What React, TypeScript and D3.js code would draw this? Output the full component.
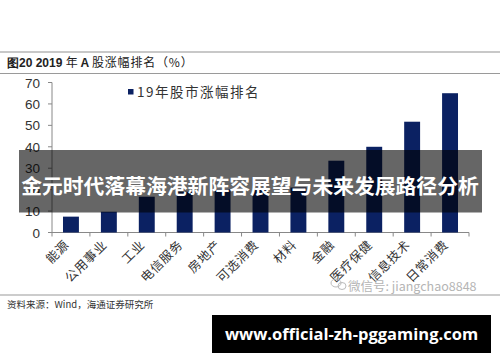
import { useEffect, useRef } from "react";
import * as d3 from "d3";

const categories = ["能源", "公用事业", "工业", "电信服务", "房地产", "可选消费", "材料", "金融", "医疗保健", "信息技术", "日常消费"];
const gains = [7.4, 9.7, 16.7, 19.0, 20.2, 19.8, 21.0, 33.5, 40.0, 51.7, 65.0];
const yTicks = [0, 10, 20, 30, 40, 50, 60, 70];
const seriesName = "19年股市涨幅排名";
const title = ["图20 2019 ", "年 ", "A ", "股涨幅排名（%）"];
const source = "资料来源：Wind，海通证券研究所";
const banner = "金元时代落幕海港新阵容展望与未来发展路径分析";
const site = "www.official-zh-pggaming.com";
const wechat = "微信号: jiangchao8848";

const CJK = "'Noto Sans CJK SC', sans-serif";
const SANS = "'Liberation Sans', Arial, sans-serif";

export default function App() {
  const ref = useRef<SVGSVGElement>(null);

  useEffect(() => {
    const el = ref.current;
    if (!el) return;
    const W = 500, H = 362;
    const M = { left: 52, right: 469, top: 82.5, bottom: 232.5 };
    const svg = d3.select(el).attr("width", W).attr("height", H).attr("viewBox", `0 0 ${W} ${H}`);
    svg.selectAll("*").remove();

    svg.append("rect").attr("width", W).attr("height", H).attr("fill", "#fff");

    // header rules + title
    svg.append("line").attr("x1", 0).attr("x2", W).attr("y1", 52).attr("y2", 52).attr("stroke", "#c8c8c8").attr("stroke-width", 2);
    svg.append("line").attr("x1", 0).attr("x2", W).attr("y1", 73.5).attr("y2", 73.5).attr("stroke", "#9a9a9a").attr("stroke-width", 1);
    const t = svg.append("text").attr("x", 7).attr("y", 67).attr("font-size", 12).attr("fill", "#222").attr("font-family", CJK);
    t.append("tspan").attr("font-weight", "bold").attr("font-family", SANS).text(title[0]);
    t.append("tspan").text(title[1]);
    t.append("tspan").attr("font-weight", "bold").attr("font-family", SANS).text(title[2]);
    t.append("tspan").attr("letter-spacing", 0.8).text(title[3]);

    const x = d3.scaleBand<string>().domain(categories).range([M.left, M.right]).paddingInner(0.58).paddingOuter(0.29);
    const y = d3.scaleLinear().domain([0, 70]).range([M.bottom, M.top]);
    const step = x.step();

    // y axis
    svg.append("line").attr("x1", M.left).attr("x2", M.left).attr("y1", y(70)).attr("y2", y(0)).attr("stroke", "#888");
    svg.selectAll("line.yt").data(yTicks).join("line")
      .attr("x1", M.left - 4).attr("x2", M.left).attr("y1", (d) => y(d)).attr("y2", (d) => y(d)).attr("stroke", "#888");
    svg.selectAll("text.yl").data(yTicks).join("text")
      .attr("x", 40).attr("y", (d) => y(d) + 5).attr("text-anchor", "end")
      .attr("font-size", 13.5).attr("font-family", SANS).attr("fill", "#333").text((d) => d);

    // x axis
    svg.append("line").attr("x1", M.left).attr("x2", M.right).attr("y1", y(0)).attr("y2", y(0)).attr("stroke", "#888");
    const bounds = d3.range(categories.length + 1).map((i) => M.left + i * step);
    svg.selectAll("line.xt").data(bounds).join("line")
      .attr("x1", (d) => d).attr("x2", (d) => d).attr("y1", y(0)).attr("y2", y(0) + 4).attr("stroke", "#888");

    // bars
    svg.selectAll("rect.bar").data(categories).join("rect")
      .attr("x", (d) => x(d) ?? 0).attr("width", x.bandwidth())
      .attr("y", (_, i) => y(gains[i])).attr("height", (_, i) => y(0) - y(gains[i]))
      .attr("fill", "#0b2162");

    // category labels
    svg.selectAll("text.xl").data(categories).join("text")
      .attr("transform", (d) => `translate(${(x(d) ?? 0) + x.bandwidth() / 2 - 1},${y(0) + 13}) rotate(-45)`)
      .attr("text-anchor", "end").attr("font-size", 12.5).attr("letter-spacing", 0.8).attr("font-family", CJK).attr("fill", "#333")
      .text((d) => d);

    // legend
    svg.append("rect").attr("x", 128).attr("y", 89).attr("width", 5.5).attr("height", 5.5).attr("fill", "#0b2162");
    svg.append("text").attr("x", 137).attr("y", 97).attr("font-size", 13.5).attr("letter-spacing", 1.5).attr("font-family", CJK).attr("fill", "#333").text(seriesName);

    // wechat watermark
    const wx = 338, wy = 287;
    svg.append("ellipse").attr("cx", wx - 2).attr("cy", wy - 4).attr("rx", 5).attr("ry", 4).attr("fill", "none").attr("stroke", "#bbb");
    svg.append("ellipse").attr("cx", wx + 4).attr("cy", wy - 1).attr("rx", 4).attr("ry", 3.5).attr("fill", "none").attr("stroke", "#bbb");
    svg.append("text").attr("x", 348).attr("y", 291).attr("font-size", 12.5).attr("font-family", CJK).attr("fill", "#b5b5b5").text(wechat);

    // footer
    svg.append("line").attr("x1", 0).attr("x2", W).attr("y1", 295).attr("y2", 295).attr("stroke", "#bbb").attr("stroke-width", 1.5);
    svg.append("text").attr("x", 7).attr("y", 308).attr("font-size", 9.5).attr("font-family", CJK).attr("fill", "#333").text(source);

    // overlay banner
    svg.append("rect").attr("x", 19).attr("y", 150).attr("width", 463).attr("height", 62.5).attr("fill", "#000").attr("opacity", 0.6);
    svg.append("text").attr("x", 250).attr("y", 194).attr("text-anchor", "middle").attr("font-size", 20.8)
      .attr("font-weight", "bold").attr("font-family", CJK).attr("fill", "#fff").text(banner);

    // site box
    svg.append("rect").attr("x", 212).attr("y", 315).attr("width", 279).attr("height", 38).attr("fill", "#000");
    svg.append("text").attr("x", 351.5).attr("y", 340).attr("text-anchor", "middle").attr("font-size", 16.5)
      .attr("font-weight", "bold").attr("font-family", "'Open Sans', sans-serif").attr("fill", "#fff").text(site);
  }, []);

  return <svg ref={ref} style={{ position: "absolute", left: 0, top: 0 }} role="img" aria-label="2019年A股涨幅排名" />;
}
